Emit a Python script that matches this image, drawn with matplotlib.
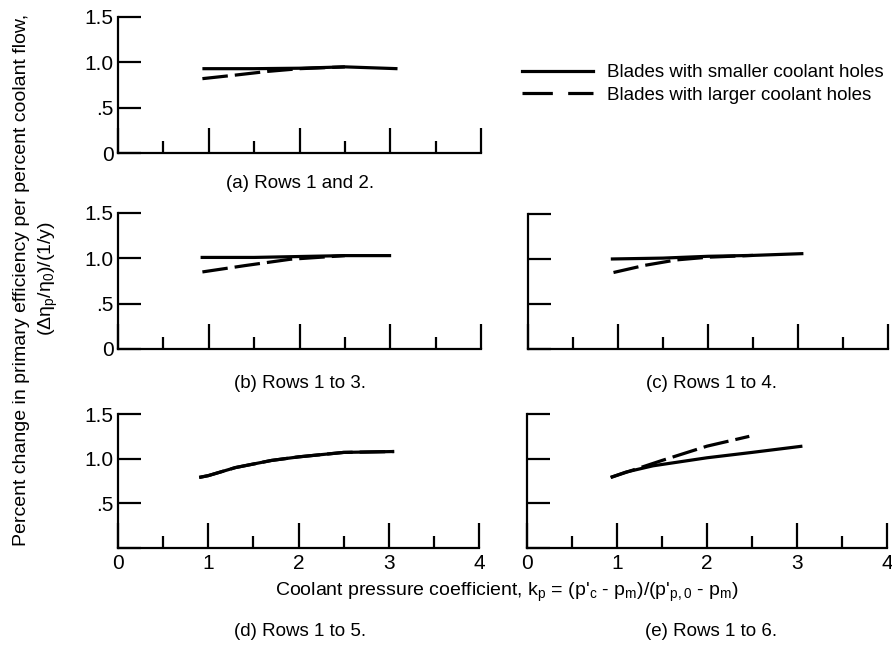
import matplotlib
matplotlib.use("Agg")
import matplotlib.pyplot as plt
from matplotlib.lines import Line2D
from matplotlib.ticker import FixedLocator

FONT = ["Liberation Sans", "DejaVu Sans"]
plt.rcParams["font.family"] = FONT
plt.rcParams["mathtext.fontset"] = "custom"
plt.rcParams["mathtext.rm"] = "Liberation Sans"
plt.rcParams["mathtext.it"] = "Liberation Sans"
plt.rcParams["mathtext.bf"] = "Liberation Sans:bold"

# Coolant pressure coefficient (x) and efficiency change per percent coolant (y)
# (a) Rows 1 and 2
a_small_x = [0.93, 1.5, 2.0, 2.5, 3.08]
a_small_y = [0.93, 0.93, 0.935, 0.95, 0.93]
a_large_x = [0.93, 1.3, 1.65, 2.0, 2.5]
a_large_y = [0.82, 0.86, 0.90, 0.93, 0.95]

# (b) Rows 1 to 3
b_small_x = [0.91, 1.5, 2.0, 2.5, 3.01]
b_small_y = [1.01, 1.01, 1.02, 1.03, 1.03]
b_large_x = [0.93, 1.4, 1.9, 2.5]
b_large_y = [0.85, 0.92, 0.99, 1.03]

# (c) Rows 1 to 4
c_small_x = [0.92, 1.5, 2.0, 2.5, 3.06]
c_small_y = [1.00, 1.01, 1.03, 1.04, 1.06]
c_large_x = [0.95, 1.3, 1.65, 2.0, 2.5]
c_large_y = [0.85, 0.93, 0.99, 1.02, 1.04]

# (d) Rows 1 to 5 (both blade sets coincide)
d_small_x = [0.90, 1.0, 1.3, 1.7, 2.0, 2.5, 3.06]
d_small_y = [0.79, 0.81, 0.90, 0.98, 1.02, 1.07, 1.08]
d_large_x = [0.90, 1.0, 1.3, 1.7, 2.0, 2.5, 3.06]
d_large_y = [0.79, 0.81, 0.90, 0.98, 1.02, 1.07, 1.08]

# (e) Rows 1 to 6
e_small_x = [0.93, 1.1, 1.4, 2.0, 2.5, 3.06]
e_small_y = [0.79, 0.85, 0.92, 1.01, 1.07, 1.14]
e_large_x = [0.93, 1.2, 1.5, 2.0, 2.47]
e_large_y = [0.79, 0.88, 0.98, 1.14, 1.25]

captions = ["(a) Rows 1 and 2.", "(b) Rows 1 to 3.", "(c) Rows 1 to 4.",
            "(d) Rows 1 to 5.", "(e) Rows 1 to 6."]
legend_labels = ["Blades with smaller coolant holes",
                 "Blades with larger coolant holes"]
y_ticks = [0, 0.5, 1.0, 1.5]
y_ticklabels = ["0", ".5", "1.0", "1.5"]
x_ticks = [0, 1, 2, 3, 4]
x_ticklabels = ["0", "1", "2", "3", "4"]
x_minor = [0.5, 1.5, 2.5, 3.5]

W, H = 892, 645
fig = plt.figure(figsize=(W / 100, H / 100), dpi=100)
fig.patch.set_facecolor("white")


def box(x0, x1, y0, y1):
    return [x0 / W, 1 - y0 / H, (x1 - x0) / W, (y0 - y1) / H]


panels = [
    # rect, data, show y labels, show y zero label, show x labels, caption pos
    (box(118, 481, 153, 17), (a_small_x, a_small_y, a_large_x, a_large_y), True, True, False, (300, 184)),
    (box(118, 481, 349, 213), (b_small_x, b_small_y, b_large_x, b_large_y), True, True, False, (300, 383)),
    (box(528, 888, 349, 214), (c_small_x, c_small_y, c_large_x, c_large_y), False, False, False, (711, 383)),
    (box(118, 479, 548, 414), (d_small_x, d_small_y, d_large_x, d_large_y), True, False, True, (300, 632)),
    (box(527, 887, 548, 414), (e_small_x, e_small_y, e_large_x, e_large_y), False, False, True, (711, 632)),
]

LW = 2.3
DASH = (0, (8.0, 2.2))
FS = 13.5
TICK_FS = 15

for (rect, data, ylab, yzero, xlab, cap), caption in zip(panels, captions):
    ax = fig.add_axes(rect)
    sx, sy, lx, ly = data
    ax.plot(sx, sy, color="black", lw=LW, solid_capstyle="butt")
    ax.plot(lx, ly, color="black", lw=LW, linestyle=DASH, dash_capstyle="butt")
    ax.set_xlim(0, 4)
    ax.set_ylim(0, 1.5)
    for side in ("top", "right"):
        ax.spines[side].set_visible(False)
    for side in ("left", "bottom"):
        ax.spines[side].set_linewidth(1.6)
    ax.xaxis.set_major_locator(FixedLocator(x_ticks))
    ax.xaxis.set_minor_locator(FixedLocator(x_minor))
    ax.yaxis.set_major_locator(FixedLocator(y_ticks))
    ax.tick_params(axis="x", which="major", direction="in", length=18, width=1.6,
                   pad=4, labelsize=TICK_FS)
    ax.tick_params(axis="x", which="minor", direction="in", length=8.5, width=1.6)
    ax.tick_params(axis="y", which="major", direction="in", length=16.5, width=1.6,
                   pad=3, labelsize=TICK_FS)
    if xlab:
        ax.set_xticklabels(x_ticklabels)
    else:
        ax.set_xticklabels([])
    if ylab:
        labels = list(y_ticklabels)
        if not yzero:
            labels[0] = ""
        ax.set_yticklabels(labels)
    else:
        ax.set_yticklabels([])
    fig.text(cap[0] / W, 1 - cap[1] / H, caption, ha="center", va="center",
             fontsize=FS)

# Axis titles shared by all panels
fig.text(507 / W, 1 - 592 / H,
         "Coolant pressure coefficient, k$_p$ = (p'$_c$ - p$_m$)/(p'$_{p,0}$ - p$_m$)",
         ha="center", va="center", fontsize=14)
fig.text(22 / W, 1 - 280 / H,
         "Percent change in primary efficiency per percent coolant flow,",
         rotation=90, ha="center", va="center", fontsize=14)
fig.text(48 / W, 1 - 279 / H, "(\u0394\u03b7$_p$/\u03b7$_0$)/(1/y)",
         rotation=90, ha="center", va="center", fontsize=14)

handles = [Line2D([], [], color="black", lw=LW),
           Line2D([], [], color="black", lw=LW, linestyle=(0, (9.5, 4.8)))]
fig.legend(handles, legend_labels, loc="upper left",
           bbox_to_anchor=(522 / W, 1 - 64 / H), frameon=False, fontsize=FS,
           handlelength=3.8, handletextpad=0.75, labelspacing=0.3,
           borderpad=0, borderaxespad=0)

fig.savefig("out.png", dpi=100, facecolor="white")
